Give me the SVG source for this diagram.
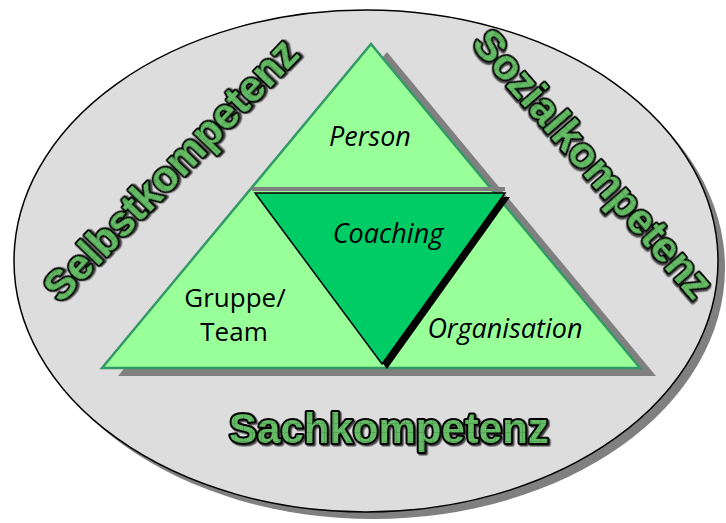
<svg xmlns="http://www.w3.org/2000/svg" width="726" height="523" viewBox="0 0 726 523">
  <defs>
    <pattern id="grid" width="9" height="9" patternUnits="userSpaceOnUse">
      <rect width="9" height="9" fill="#66bb66"/>
      <path d="M0 0.5H9M0.5 0V9" stroke="#4a9f4a" stroke-width="0.7"/>
    </pattern>
    <filter id="ts" x="-10%" y="-30%" width="120%" height="160%">
      <feDropShadow dx="1.5" dy="1.5" stdDeviation="0" flood-color="#444" flood-opacity="1"/>
    </filter>
  </defs>
  <style>
    .wa { font-family: "Liberation Sans", Arial, sans-serif; font-weight: bold; font-size: 42px; text-anchor: middle; fill: url(#grid); stroke: #000; stroke-width: 4; stroke-linejoin: round; paint-order: stroke; filter: url(#ts); }
    .lbl { font-family: "Open Sans", "Noto Sans", sans-serif; font-size: 26px; text-anchor: middle; fill: #000; }
    .it { font-style: italic; font-size: 27px; }
    .shadow { fill: #808080; }
  </style>

  <g id="background">
    <ellipse class="shadow" cx="373" cy="268" rx="352" ry="251"/>
    <ellipse cx="366" cy="261" rx="352" ry="251" fill="#dddddd" stroke="#000" stroke-width="1.5"/>
  </g>

  <g id="pyramid">
    <polygon class="shadow" points="387,52 656,376 118,376"/>
    <polygon points="371,44 640,368 102,368" fill="#99ff99" stroke="#339966" stroke-width="2.5" stroke-linejoin="miter"/>
    <line x1="252" y1="189" x2="505" y2="189" stroke="#808080" stroke-width="4"/>
  </g>

  <g id="person">
    <text class="lbl it" x="370" y="146">Person</text>
  </g>

  <g id="gruppe-team">
    <text class="lbl" x="235" y="307">Gruppe/</text>
    <text class="lbl" x="234" y="341">Team</text>
  </g>

  <g id="organisation">
    <text class="lbl it" x="505" y="338">Organisation</text>
  </g>

  <g id="coaching">
    <polygon points="260,197 510,197 387,369" fill="#000"/>
    <polygon points="255,193 505,193 382,364" fill="#00cc66" stroke="#000" stroke-width="1.5" stroke-linejoin="miter"/>
    <text class="lbl it" x="388" y="243">Coaching</text>
  </g>

  <g id="selbstkompetenz">
    <text class="wa" transform="translate(181,180) rotate(-46)">Selbstkompetenz</text>
  </g>

  <g id="sozialkompetenz">
    <text class="wa" transform="translate(582,173) rotate(49)">Sozialkompetenz</text>
  </g>

  <g id="sachkompetenz">
    <text class="wa" x="389" y="443">Sachkompetenz</text>
  </g>

  <g id="connectors"/>
</svg>
